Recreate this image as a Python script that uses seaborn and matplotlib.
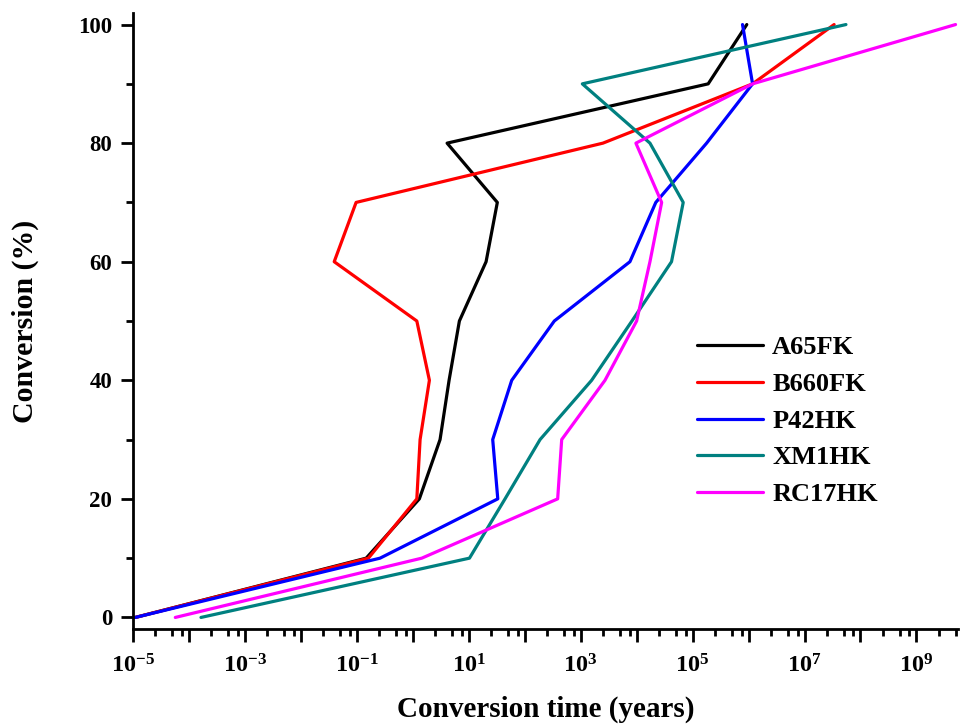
import numpy as np
import pandas as pd
import matplotlib
matplotlib.use("Agg")
import matplotlib.pyplot as plt
from matplotlib.ticker import LogLocator, FuncFormatter, MultipleLocator, NullFormatter
import seaborn as sns

# Conversion levels (%) and conversion times (years) for each sample
conversion = [0, 10, 20, 30, 40, 50, 60, 70, 80, 90, 100]
a65fk = [1.1e-5, 0.147, 1.31, 3.07, 4.45, 6.8, 20.4, 32.4, 4.1, 1.9e5, 9.3e5]
b660fk = [1.1e-5, 0.161, 1.18, 1.35, 1.98, 1.18, 0.0394, 0.097, 2500, 1.18e6, 3.38e7]
p42hk = [1.1e-5, 0.26, 33, 26.8, 58.6, 338, 7590, 2.2e4, 1.78e5, 1.18e6, 7.8e5]
xm1hk = [1.64e-4, 10.3, 44.5, 188, 1570, 8240, 4.2e4, 6.8e4, 1.73e4, 1070, 5.5e7]
rc17hk = [5.7e-5, 1.45, 388, 458, 2720, 1.0e4, 1.73e4, 2.8e4, 9700, 1.18e6, 5.0e9]

samples = ["A65FK", "B660FK", "P42HK", "XM1HK", "RC17HK"]
times = [a65fk, b660fk, p42hk, xm1hk, rc17hk]
colors = ["#000000", "#FF0000", "#0000FF", "#008080", "#FF00FF"]

frames = []
for name, t in zip(samples, times):
    frames.append(pd.DataFrame({"time": t, "conversion": conversion, "sample": name}))
df = pd.concat(frames, ignore_index=True)

sns.set_theme(style="ticks")
plt.rcParams["font.family"] = ["Liberation Serif", "DejaVu Serif"]
plt.rcParams["font.weight"] = "bold"
plt.rcParams["text.color"] = "black"
plt.rcParams["axes.labelcolor"] = "black"
plt.rcParams["mathtext.fontset"] = "custom"
plt.rcParams["mathtext.rm"] = "Liberation Serif:bold"
plt.rcParams["mathtext.bf"] = "Liberation Serif:bold"
plt.rcParams["mathtext.it"] = "Liberation Serif:bold"

fig = plt.figure(figsize=(9.63, 7.27), dpi=100)
ax = fig.add_axes([133 / 963, 1 - 629.3 / 727, (958.3 - 133) / 963, (629.3 - 12.7) / 727])

sns.lineplot(data=df, x="time", y="conversion", hue="sample", hue_order=samples,
             palette=dict(zip(samples, colors)), sort=False, estimator=None,
             units="sample", linewidth=2.3, ax=ax, legend=True)

ax.set_xscale("log")
ax.set_xlim(1e-5, 5.6e9)
ax.set_ylim(-2.0, 102.0)

ax.xaxis.set_major_locator(LogLocator(base=10, subs=(1.0,), numticks=30))
ax.xaxis.set_minor_locator(LogLocator(base=10, subs=(2.5, 5.0, 7.5), numticks=30))
ax.xaxis.set_minor_formatter(NullFormatter())


def dec_label(v, pos):
    e = int(round(np.log10(v)))
    if e % 2 == 0:
        return ""
    return r"$\mathbf{10^{%d}}$" % e


ax.xaxis.set_major_formatter(FuncFormatter(dec_label))
ax.yaxis.set_major_locator(MultipleLocator(20))
ax.yaxis.set_minor_locator(MultipleLocator(10))

for s in ["top", "right"]:
    ax.spines[s].set_visible(False)
for s in ["left", "bottom"]:
    ax.spines[s].set_linewidth(2.0)
    ax.spines[s].set_color("black")

ax.tick_params(axis="both", which="major", direction="out", length=9, width=2.0,
               labelsize=16, color="black", labelcolor="black", pad=6)
ax.tick_params(axis="x", which="major", pad=9, labelsize=17.5)
ax.tick_params(axis="both", which="minor", direction="out", length=5, width=2.0,
               color="black")
for lab in ax.get_yticklabels():
    lab.set_fontweight("bold")
    lab.set_fontsize(16.5)

ax.set_xlabel("Conversion time (years)", fontsize=21, fontweight="bold", labelpad=13,
              color="black")
ax.set_ylabel("Conversion (%)", fontsize=21.5, fontweight="bold", labelpad=28,
              color="black")
ax.grid(False)

handles, labels = ax.get_legend_handles_labels()
leg = ax.legend(handles, labels, loc="upper left",
                bbox_to_anchor=(697 / 963, 1 - 336 / 727), bbox_transform=fig.transFigure,
                frameon=False, fontsize=19, handlelength=2.5, handletextpad=0.35,
                labelspacing=0.5, borderpad=0, borderaxespad=0)
for line in leg.get_lines():
    line.set_linewidth(2.3)
for txt in leg.get_texts():
    txt.set_fontweight("bold")
    txt.set_color("black")

fig.savefig("out.png", dpi=100, facecolor="white")
